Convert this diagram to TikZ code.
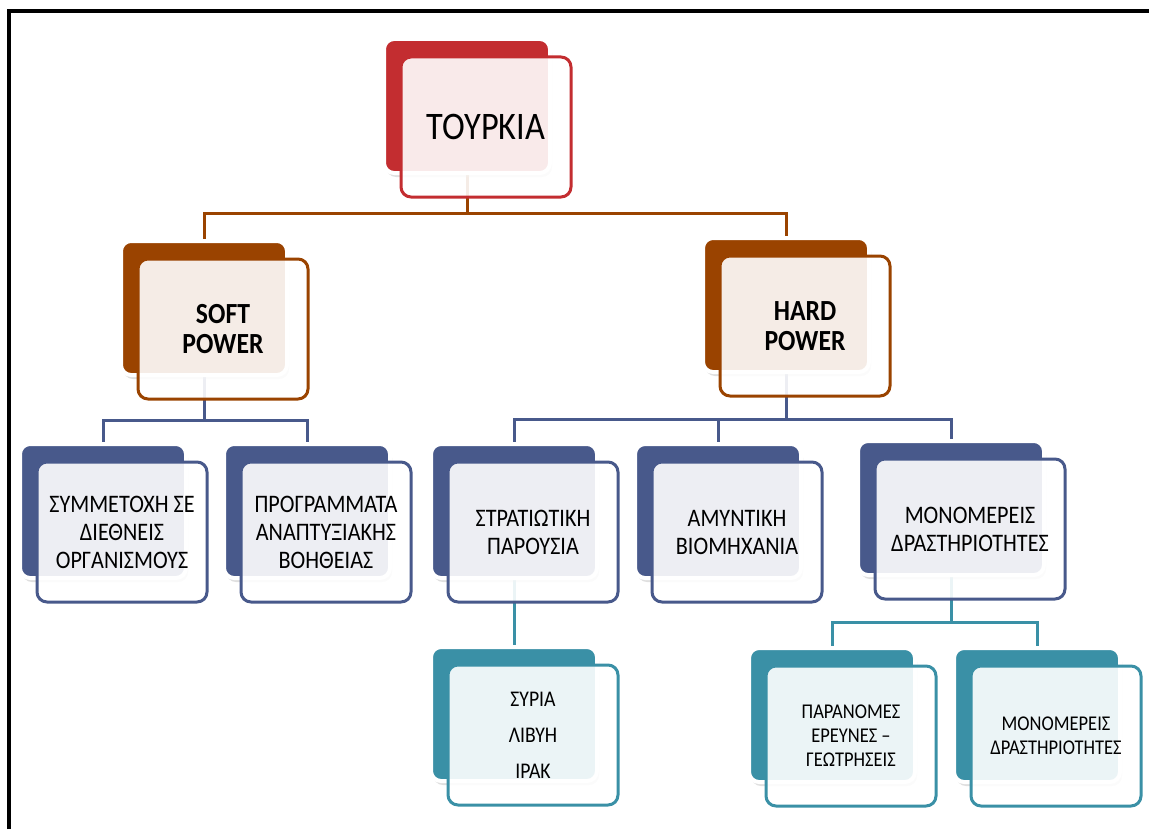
\documentclass[tikz,border=0pt]{standalone}
\usepackage{fontspec}
\setmainfont{Carlito}[FakeStretch=0.88]
\usetikzlibrary{shadows,backgrounds}
\usepackage{xcolor}
\definecolor{tkred}{HTML}{C32D30}
\definecolor{powbrown}{HTML}{9A4300}
\definecolor{midblue}{HTML}{48598B}
\definecolor{lowteal}{HTML}{3A90A6}
\newcommand{\topfont}{\fontsize{19.5}{23}\selectfont}
\newcommand{\powfont}{\fontsize{14.6}{15}\selectfont\bfseries}
\newcommand{\midfont}{\fontsize{12.6}{14}\selectfont}
\newcommand{\lowfont}{\fontsize{10.5}{12}\selectfont}
\newcommand{\listfont}{\fontsize{11.2}{18}\selectfont}

\begin{document}
\begin{tikzpicture}[x=0.5pt,y=-0.5pt,
	backbox/.style={rounded corners=5pt,draw=white,line width=2pt,fill=#1,
		minimum height=67pt,inner sep=0pt,
		drop shadow={opacity=0.25,shadow xshift=1pt,shadow yshift=-2pt}},
	frontbox/.style={rounded corners=5pt,draw=#1,line width=1.5pt,fill=white,
		fill opacity=0.9,text opacity=1,minimum height=70pt,inner sep=0pt,align=center},
	link/.style={draw=#1,line width=1.5pt}]
	\useasboundingbox (0,0) rectangle (1149,829);
	\draw[line width=2pt] (9,829) -- (9,11) -- (1149,11);
	\foreach \nm/\px/\py/\bw/\col/\fnt/\txt in {
			tk/467/106/83pt/tkred/\topfont/{ΤΟΥΡΚΙΑ},
			soft/204/308/83pt/powbrown/\powfont/{SOFT\\POWER},
			hard/786/305/83pt/powbrown/\powfont/{HARD\\POWER},
			sym/103/511/83pt/midblue/\midfont/{ΣΥΜΜΕΤΟΧΗ ΣΕ\\ΔΙΕΘΝΕΙΣ\\ΟΡΓΑΝΙΣΜΟΥΣ},
			prog/307/511/83pt/midblue/\midfont/{ΠΡΟΓΡΑΜΜΑΤΑ\\ΑΝΑΠΤΥΞΙΑΚΗΣ\\ΒΟΗΘΕΙΑΣ},
			strat/514/511/83pt/midblue/\midfont/{ΣΤΡΑΤΙΩΤΙΚΗ\\ΠΑΡΟΥΣΙΑ},
			amyn/718/511/83pt/midblue/\midfont/{ΑΜΥΝΤΙΚΗ\\ΒΙΟΜΗΧΑΝΙΑ},
			mono/951/508/93pt/midblue/\midfont/{ΜΟΝΟΜΕΡΕΙΣ\\ΔΡΑΣΤΗΡΙΟΤΗΤΕΣ},
			syr/514/714/83pt/lowteal/\listfont/{ΣΥΡΙΑ\\ΛΙΒΥΗ\\ΙΡΑΚ},
			para/832/715/83pt/lowteal/\lowfont/{ΠΑΡΑΝΟΜΕΣ\\ΕΡΕΥΝΕΣ --\\ΓΕΩΤΡΗΣΕΙΣ},
			mono2/1037/715/83pt/lowteal/\lowfont/{ΜΟΝΟΜΕΡΕΙΣ\\ΔΡΑΣΤΗΡΙΟΤΗΤΕΣ}%
			} {
		\node[backbox=\col,minimum width=\bw] (\nm-b) at (\px,\py) {};
		\node[frontbox=\col,minimum width=\bw+2pt,font=\fnt] (\nm) at ([shift={(19,21)}]\nm-b.center) {\txt};
	}
	% connectors behind the boxes
	\begin{scope}[on background layer]
		\coordinate (bus1) at (0,213);
		\coordinate (bus2) at (0,420);
		\coordinate (bus3) at (0,419);
		\coordinate (bus4) at (0,622);
		\draw[link=powbrown] (tk-b.south) -- (tk-b.south |- bus1)
			(soft-b.north) |- (hard-b.north |- bus1) -- (hard-b.north);
		\draw[link=midblue] (soft-b.south) -- (soft-b.south |- bus2)
			(sym-b.north) |- (prog-b.north |- bus2) -- (prog-b.north);
		\draw[link=midblue] (hard-b.south) -- (hard-b.south |- bus3)
			(strat-b.north) |- (mono-b.north |- bus3) -- (mono-b.north)
			(amyn-b.north) -- (amyn-b.north |- bus3);
		\draw[link=lowteal] (strat-b.south) -- (syr-b.north);
		\draw[link=lowteal] (mono-b.south) -- (mono-b.south |- bus4)
			(para-b.north) |- (mono2-b.north |- bus4) -- (mono2-b.north);
	\end{scope}
\end{tikzpicture}
\end{document}
